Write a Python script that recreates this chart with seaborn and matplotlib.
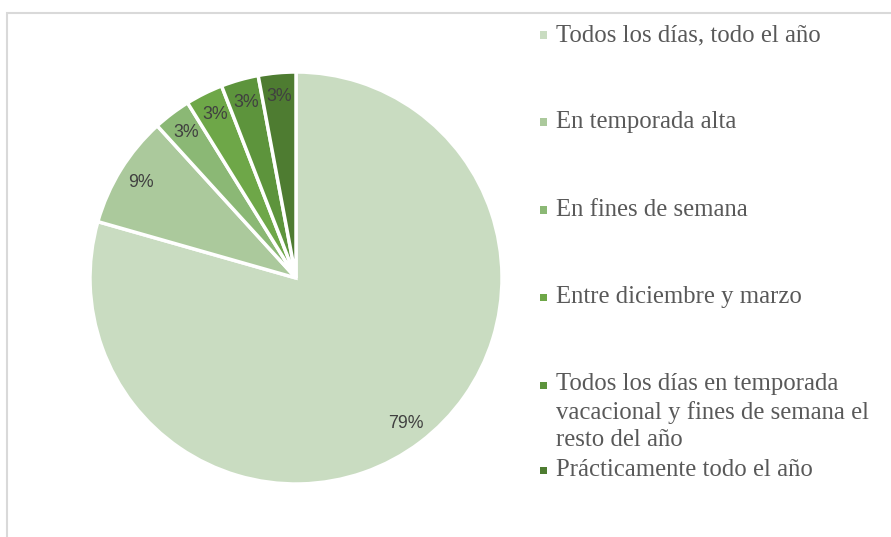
import matplotlib
matplotlib.use("Agg")
import matplotlib.pyplot as plt
import seaborn as sns
from matplotlib.patches import Rectangle

# respondents per answer (n = 34)
categories = [
    "Todos los días, todo el año",
    "En temporada alta",
    "En fines de semana",
    "Entre diciembre y marzo",
    "Todos los días en temporada\nvacacional y fines de semana el\nresto del año",
    "Prácticamente todo el año",
]
counts = [27, 3, 1, 1, 1, 1]
colors = ["#c9dcc1", "#abc99c", "#8bb875", "#6ea748", "#5d943c", "#4e7c31"]

sns.set_theme(style="white")
plt.rcParams["font.family"] = ["Liberation Sans", "DejaVu Sans"]

W, H = 891, 537
fig = plt.figure(figsize=(W / 100, H / 100), dpi=100)

# light frame (top and left edges visible)
fig.add_artist(Rectangle((7 / W, -0.1), 1.2, 1 - 13 / H + 0.1,
                         transform=fig.transFigure, fill=False,
                         edgecolor="#d9d9d9", linewidth=1.5))

cx, cy, r = 296, 278, 206
ax = fig.add_axes([(cx - r) / W, (H - cy - r) / H, 2 * r / W, 2 * r / H])
wedges, texts = ax.pie(
    counts, colors=colors, startangle=90, counterclock=False,
    labels=[f"{round(c / sum(counts) * 100)}%" for c in counts],
    labeldistance=0.885,
    wedgeprops=dict(edgecolor="white", linewidth=2.5),
    textprops=dict(color="#404040", fontsize=12.8, ha="center", va="center"),
)
for t in texts:
    t.set_horizontalalignment("center")
ax.set_xlim(-1, 1)
ax.set_ylim(-1, 1)
ax.set_aspect("equal")
ax.axis("off")

# legend (Excel-like, right side): marker y and text-centre y in pixels
mark_y = [35, 122, 210, 297, 385, 470]
text_y = [35, 122, 210, 297, 412, 470]
for lab, col, my, ty in zip(categories, colors, mark_y, text_y):
    fig.add_artist(Rectangle((540 / W, (H - my - 3.5) / H), 7 / W, 7 / H,
                             transform=fig.transFigure, facecolor=col,
                             edgecolor="none"))
    fig.text(556 / W, (H - ty) / H, lab, family=["Liberation Serif"],
             fontsize=17.8, color="#595959", va="center", linespacing=1.3)

fig.savefig("out.png", dpi=100)
